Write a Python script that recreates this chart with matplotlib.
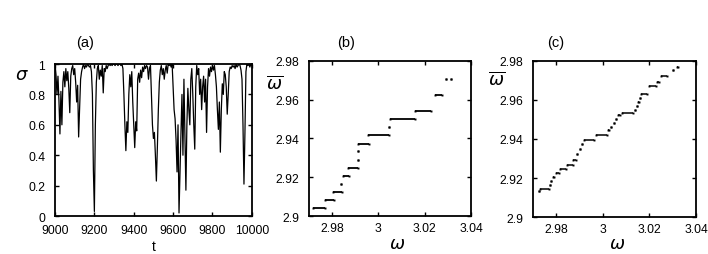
import numpy as np
import matplotlib
matplotlib.use("Agg")
import matplotlib.pyplot as plt

plt.rcParams['font.family'] = ['Liberation Sans', 'DejaVu Sans']
plt.rcParams['mathtext.fontset'] = 'dejavusans'

# (a) sigma(t), sampled every 5 time units from 9000 to 10000
t = np.arange(9000, 10001, 5)
sigma = [
    1.00, 0.93, 0.80, 0.92, 0.76, 0.54, 0.82, 0.60, 0.88, 0.95, 0.85, 0.97, 0.89, 0.95, 0.84, 0.68, 0.92, 0.97, 0.99, 0.93,
    0.97, 0.88, 0.75, 0.86, 0.52, 0.72, 0.90, 0.95, 0.98, 1.00, 0.97, 0.99, 0.98, 1.00, 0.99, 0.98, 0.99, 0.95, 0.80, 0.30,
    0.03, 0.60, 0.88, 0.97, 0.99, 0.90, 0.96, 0.92, 0.99, 0.81, 0.97, 0.95, 0.99, 0.97, 0.99, 1.00, 0.99, 1.00, 0.99, 1.00,
    1.00, 0.99, 1.00, 1.00, 0.99, 1.00, 1.00, 0.99, 1.00, 0.97, 0.80, 0.60, 0.43, 0.62, 0.55, 0.80, 0.93, 0.85, 0.95, 0.75,
    0.60, 0.45, 0.62, 0.56, 0.90, 0.94, 0.88, 0.96, 0.91, 0.98, 0.95, 0.99, 0.97, 0.99, 0.98, 0.90, 0.97, 0.99, 0.80, 0.60,
    0.51, 0.55, 0.40, 0.23, 0.45, 0.70, 0.88, 0.96, 0.99, 0.93, 0.97, 0.90, 0.96, 0.99, 0.94, 1.00, 0.99, 1.00, 0.98, 1.00,
    0.85, 0.70, 0.64, 0.50, 0.29, 0.60, 0.02, 0.30, 0.55, 0.80, 0.40, 0.90, 0.55, 0.17, 0.60, 0.84, 0.70, 0.60, 0.90, 0.97,
    0.80, 0.60, 0.44, 0.85, 0.99, 0.93, 0.97, 0.80, 0.90, 0.70, 0.85, 0.92, 0.75, 0.90, 0.55, 0.85, 0.97, 0.92, 0.98, 0.95,
    0.99, 0.96, 0.99, 0.93, 0.85, 0.70, 0.57, 0.75, 0.42, 0.70, 0.87, 0.80, 0.95, 0.93, 0.85, 0.67, 0.80, 0.95, 0.98, 0.97,
    0.99, 0.98, 0.99, 0.97, 1.00, 0.98, 0.99, 1.00, 0.99, 0.96, 0.90, 0.60, 0.21, 0.55, 0.95, 1.00, 0.99, 1.00, 0.98, 1.00,
    0.99,
]

# (b) plateaus of the mean frequency: start, end, level
b_x0 = [2.9717, 2.9769, 2.9804, 2.9837, 2.9846, 2.9869, 2.9910, 2.9910, 2.9914, 2.9957,
        3.0046, 3.0050, 3.0160, 3.0246, 3.0293, 3.0314]
b_x1 = [2.9769, 2.9807, 2.9843, 2.9838, 2.9874, 2.9914, 2.9911, 2.9911, 2.9961, 3.0046,
        3.0047, 3.0160, 3.0229, 3.0274, 3.0294, 3.0315]
b_y = [2.9040, 2.9083, 2.9126, 2.9166, 2.9207, 2.9250, 2.9291, 2.9333, 2.9374, 2.9417,
       2.9459, 2.9502, 2.9541, 2.9624, 2.9708, 2.9708]

# (c) plateaus
c_x0 = [2.9724, 2.9731, 2.9772, 2.9778, 2.9788, 2.9800, 2.9817, 2.9846, 2.9874, 2.9890,
        2.9900, 2.9910, 2.9917, 2.9969, 3.0024, 3.0034, 3.0046, 3.0056, 3.0067, 3.0083,
        3.0139, 3.0146, 3.0153, 3.0160, 3.0166, 3.0200, 3.0234, 3.0250, 3.0300, 3.0320]
c_x1 = [2.9725, 2.9768, 2.9773, 2.9779, 2.9789, 2.9813, 2.9843, 2.9870, 2.9886, 2.9891,
        2.9901, 2.9911, 2.9963, 3.0019, 3.0025, 3.0035, 3.0047, 3.0057, 3.0075, 3.0131,
        3.0140, 3.0147, 3.0154, 3.0161, 3.0188, 3.0230, 3.0240, 3.0274, 3.0301, 3.0321]
c_y = [2.9132, 2.9145, 2.9165, 2.9186, 2.9206, 2.9224, 2.9246, 2.9266, 2.9292, 2.9322,
       2.9348, 2.9374, 2.9397, 2.9423, 2.9444, 2.9462, 2.9484, 2.9504, 2.9521, 2.9535,
       2.9550, 2.9570, 2.9590, 2.9610, 2.9632, 2.9672, 2.9690, 2.9721, 2.9756, 2.9769]

TICK_FS = 8.7


def style(ax):
    ax.tick_params(direction='in', length=3, width=1, top=True, right=True,
                   labelsize=TICK_FS, pad=3)
    for s in ax.spines.values():
        s.set_linewidth(1.3)


def stairs(ax, x0, x1, y, lw):
    for a, b, v in zip(x0, x1, y):
        ax.plot([a, b], [v, v], color='black', lw=lw, solid_capstyle='butt',
                marker='s', ms=1.4, mew=0)


def omega_axes(ax):
    ax.set_xlim(2.97, 3.04)
    ax.set_ylim(2.9, 2.98)
    ax.set_xticks([2.98, 3.0, 3.02, 3.04])
    ax.set_xticklabels(['2.98', '3', '3.02', '3.04'])
    ax.set_yticks([2.9, 2.92, 2.94, 2.96, 2.98])
    ax.set_yticklabels(['2.9', '2.92', '2.94', '2.96', '2.98'])
    style(ax)
    ax.tick_params(axis='y', pad=7)
    ax.tick_params(axis='x', pad=4)


fig = plt.figure(figsize=(7.08, 2.55), dpi=100)

ax1 = fig.add_axes([0.0777, 0.149, 0.278, 0.596])
ax1.plot(t, sigma, color='black', lw=0.9)
ax1.set_xlim(9000, 10000)
ax1.set_ylim(0, 1)
ax1.set_xticks([9000, 9200, 9400, 9600, 9800, 10000])
ax1.set_yticks([0, 0.2, 0.4, 0.6, 0.8, 1])
ax1.set_yticklabels(['0', '0.2', '0.4', '0.6', '0.8', '1'])
style(ax1)
ax1.tick_params(axis='y', pad=7)
ax1.tick_params(axis='x', pad=6)
ax1.set_xlabel('t', fontsize=10, labelpad=2)
fig.text(22 / 708, 1 - 75 / 255, r'$\sigma$', fontsize=13, ha='center', va='center')
fig.text(85 / 708, 1 - 43 / 255, '(a)', fontsize=10.5, ha='center', va='center')

ax2 = fig.add_axes([0.4364, 0.149, 0.2288, 0.608])
stairs(ax2, b_x0, b_x1, b_y, 1.3)
omega_axes(ax2)
fig.text(397 / 708, 1 - 245 / 255, r'$\omega$', fontsize=13, ha='center', va='center')
fig.text(275 / 708, 1 - 84 / 255, r'$\overline{\omega}$', fontsize=13, ha='center', va='center')
fig.text(346 / 708, 1 - 43 / 255, '(b)', fontsize=10.5, ha='center', va='center')

ax3 = fig.add_axes([0.7528, 0.145, 0.2302, 0.612])
stairs(ax3, c_x0, c_x1, c_y, 1.1)
omega_axes(ax3)
fig.text(617 / 708, 1 - 245 / 255, r'$\omega$', fontsize=13, ha='center', va='center')
fig.text(497 / 708, 1 - 80 / 255, r'$\overline{\omega}$', fontsize=13, ha='center', va='center')
fig.text(556 / 708, 1 - 43 / 255, '(c)', fontsize=10.5, ha='center', va='center')

fig.savefig('out.png', dpi=100)
